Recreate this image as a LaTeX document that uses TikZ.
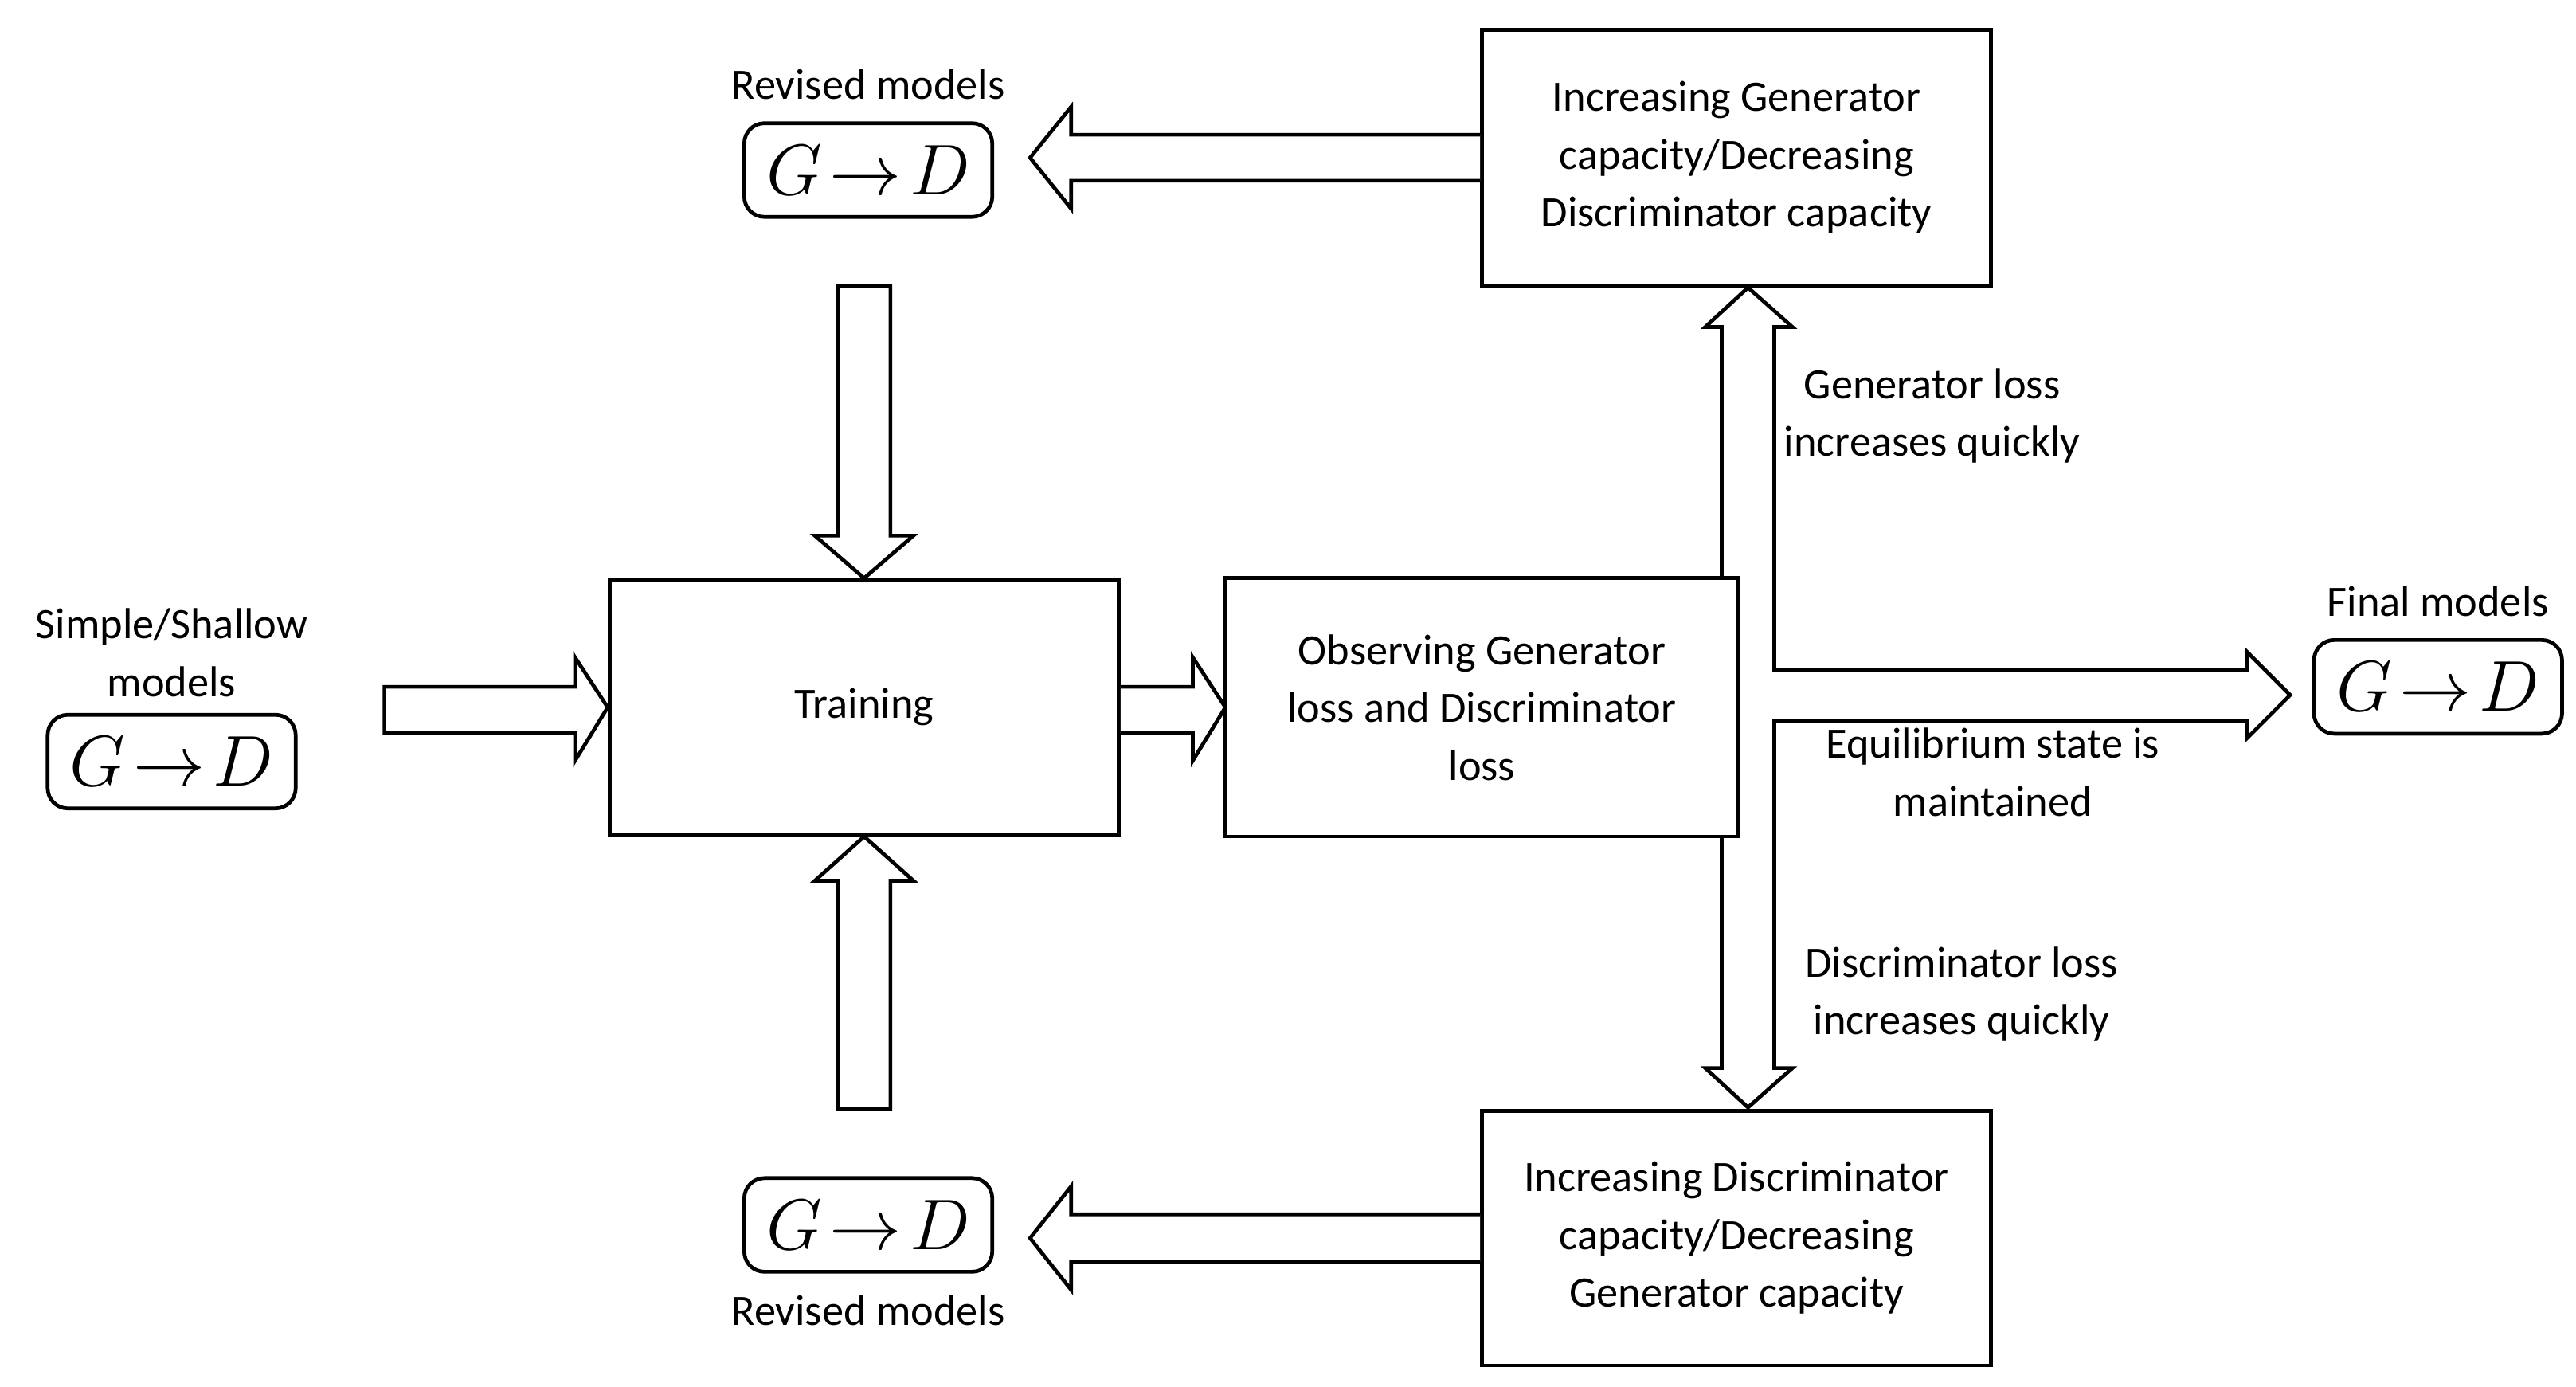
\documentclass[tikz,border=0pt]{standalone}
\usepackage{fontspec}
\setmainfont{Carlito}
\usetikzlibrary{positioning,calc}

\begin{document}
\begin{tikzpicture}[x=0.02cm,y=-0.02cm,
            box/.style={draw,line width=1.3pt,inner sep=0pt,align=center,
             font=\fontsize{15}{20}\selectfont},
            model/.style={draw,line width=1.3pt,rounded corners=7pt,inner sep=0pt,
             minimum width=3.02cm,minimum height=1.14cm,font=\fontsize{25}{25}\selectfont},
            txt/.style={align=center,font=\fontsize{15}{20}\selectfont},
            fat/.style={draw,line width=1.3pt,fill=white,line join=miter}]

            \useasboundingbox (0,0) rectangle (1568,844);

            % boxes
            \node[box,minimum width=6.2cm,minimum height=3.1cm] (Train) at (526,430.5) {Training};
            \node[box,minimum width=6.2cm,minimum height=3.1cm] (Obs) at (902,430.5) {Observing Generator\\loss and Discriminator\\loss};
            \node[box,minimum width=6.2cm,minimum height=3.12cm] (IncG) at (1057,96) {Increasing Generator\\capacity/Decreasing\\Discriminator capacity};
            \node[box,minimum width=6.2cm,minimum height=3.1cm] (IncD) at (1057,753.5) {Increasing Discriminator\\capacity/Decreasing\\Generator capacity};

            % models
            \node[model] (Simple) at (104.5,463.5) {$G\!\rightarrow\!D$};
            \node[txt] [above=2pt of Simple] {Simple/Shallow\\models};
            \node[model] (RevTop) at (528.5,103.5) {$G\!\rightarrow\!D$};
            \node[txt] [above=4pt of RevTop] {Revised models};
            \node[model] (RevBot) at (528.5,745.5) {$G\!\rightarrow\!D$};
            \node[txt] [below=4pt of RevBot] {Revised models};
            \node[model] (Final) at (1484,418) {$G\!\rightarrow\!D$};
            \node[txt] [above=4pt of Final] {Final models};

            % block arrows
            \draw[fat] (234,418) -- (350,418) -- (350,400) -- (Train.west) -- (350,463) -- (350,446) -- (234,446) -- cycle;
            \draw[fat] (Train.east |- 0,418) -- (726,418) -- (726,400) -- (Obs.west) -- (726,463) -- (726,446) -- (Train.east |- 0,446);
            \draw[fat] (510,174) -- (510,326) -- (496,326) -- (Train.north) -- (556,326) -- (542,326) -- (542,174) -- cycle;
            \draw[fat] (510,675) -- (510,536) -- (496,536) -- (Train.south) -- (556,536) -- (542,536) -- (542,675) -- cycle;
            \draw[fat] (IncG.west |- 0,82) -- (652,82) -- (652,65) -- (627,96) -- (652,127) -- (652,110) -- (IncG.west |- 0,110);
            \draw[fat] (IncD.west |- 0,739) -- (652,739) -- (652,722) -- (627,753.5) -- (652,785) -- (652,768) -- (IncD.west |- 0,768);

            % double arrow with branch
            \draw[fat] (1048,199) -- (1038,199) -- (1064,175) -- (1091,199) -- (1080,199)
              -- (1080,408) -- (1368,408) -- (1368,397) -- (1394,423) -- (1368,449) -- (1368,439)
              -- (1080,439) -- (1080,650) -- (1091,650) -- (1064,674) -- (1038,650) -- (1048,650) -- cycle;
            \draw[line width=1.3pt,fill=white] (Obs.north west) rectangle (Obs.south east);
            \node[box,draw=none] at (Obs) {Observing Generator\\loss and Discriminator\\loss};

            % labels
            \node[txt] (GL) at (1176,253) {Generator loss\\increases quickly};
            \node[txt] (EQ) at (1213,470) {Equilibrium state is\\maintained};
            \node[txt] (DL) at (1194,605) {Discriminator loss\\increases quickly};
\end{tikzpicture}
\end{document}
